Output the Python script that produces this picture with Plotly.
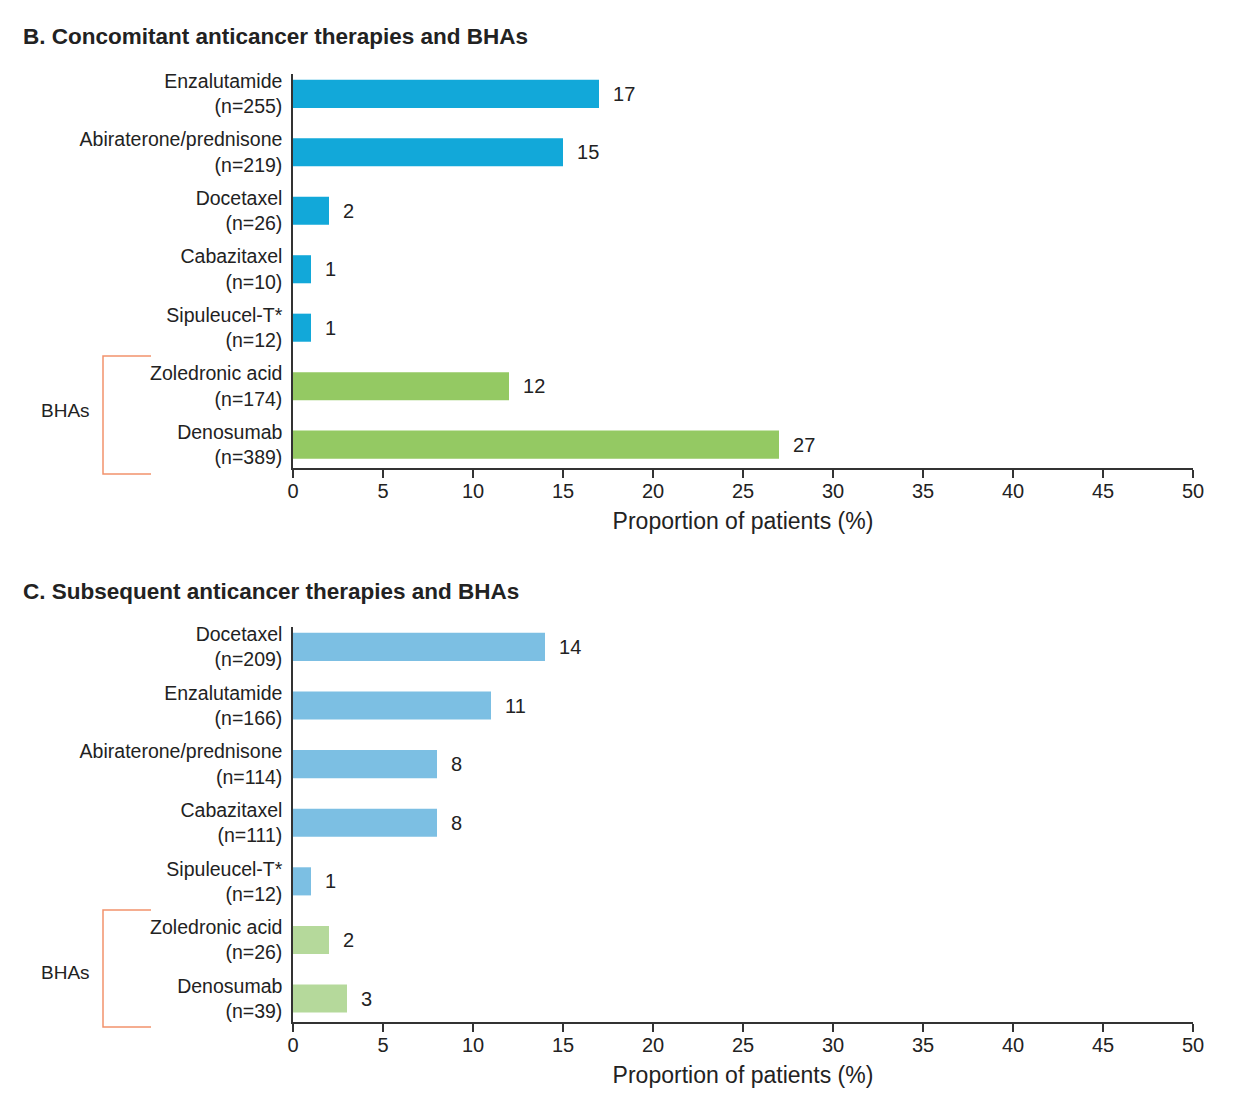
import plotly.graph_objects as go

W, H = 1237, 1109

# Panel B data
b_labels = ["Enzalutamide<br>(n=255)", "Abiraterone/prednisone<br>(n=219)", "Docetaxel<br>(n=26)",
            "Cabazitaxel<br>(n=10)", "Sipuleucel-T*<br>(n=12)", "Zoledronic acid<br>(n=174)",
            "Denosumab<br>(n=389)"]
b_values = [17, 15, 2, 1, 1, 12, 27]
b_is_bha = [False, False, False, False, False, True, True]

# Panel C data
c_labels = ["Docetaxel<br>(n=209)", "Enzalutamide<br>(n=166)", "Abiraterone/prednisone<br>(n=114)",
            "Cabazitaxel<br>(n=111)", "Sipuleucel-T*<br>(n=12)", "Zoledronic acid<br>(n=26)",
            "Denosumab<br>(n=39)"]
c_values = [14, 11, 8, 8, 1, 2, 3]
c_is_bha = [False, False, False, False, False, True, True]

x_ticks = [0, 5, 10, 15, 20, 25, 30, 35, 40, 45, 50]

B_BLUE, B_GREEN = "#12A8D9", "#94C963"
C_BLUE, C_GREEN = "#7CBFE3", "#B5D99B"
BRACKET = "#F2926C"
TXT = "#222222"
FONT = "Liberation Sans, Arial, sans-serif"

fig = go.Figure()

fig.add_trace(go.Bar(
    y=b_labels, x=b_values, orientation="h", xaxis="x", yaxis="y",
    marker=dict(color=[B_GREEN if g else B_BLUE for g in b_is_bha], line=dict(width=0)),
    width=0.48, text=["\u00a0\u00a0" + str(v) for v in b_values], textposition="outside",
    constraintext="none", cliponaxis=False, textfont=dict(size=20, color=TXT, family=FONT),
    hoverinfo="skip", showlegend=False))

fig.add_trace(go.Bar(
    y=c_labels, x=c_values, orientation="h", xaxis="x2", yaxis="y2",
    marker=dict(color=[C_GREEN if g else C_BLUE for g in c_is_bha], line=dict(width=0)),
    width=0.48, text=["\u00a0\u00a0" + str(v) for v in c_values], textposition="outside",
    constraintext="none", cliponaxis=False, textfont=dict(size=20, color=TXT, family=FONT),
    hoverinfo="skip", showlegend=False))

xdom = [293 / W, 1193 / W]
ydom_b = [1 - 468 / H, 1 - 74 / H]
ydom_c = [1 - 1022 / H, 1 - 627 / H]

def xaxis_cfg(anchor):
    return dict(domain=xdom, anchor=anchor, range=[0, 50], tickvals=x_ticks,
                ticks="outside", ticklen=8, tickwidth=1.5, tickcolor="#333",
                showline=True, linecolor="#333", linewidth=2, showgrid=False, zeroline=False,
                tickfont=dict(size=20, color=TXT, family=FONT), ticklabelstandoff=-4,
                title=dict(text="Proportion of patients (%)", standoff=12,
                           font=dict(size=23, color=TXT, family=FONT)),
                automargin=False, fixedrange=True)

def yaxis_cfg(anchor, dom, cats):
    return dict(domain=dom, anchor=anchor, type="category", categoryorder="array",
                categoryarray=cats, range=[6.4, -0.34], showline=True, linecolor="#333",
                linewidth=1.5, ticks="", ticklabelstandoff=5, showgrid=False, zeroline=False,
                tickfont=dict(size=19.5, color=TXT, family=FONT), automargin=False,
                fixedrange=True)

fig.update_layout(
    width=W, height=H, margin=dict(l=0, r=0, t=0, b=0),
    paper_bgcolor="white", plot_bgcolor="white",
    font=dict(family=FONT, color=TXT),
    xaxis=xaxis_cfg("y"), yaxis=yaxis_cfg("x", ydom_b, b_labels),
    xaxis2=xaxis_cfg("y2"), yaxis2=yaxis_cfg("x2", ydom_c, c_labels),
    bargap=0.5,
)

# Titles
for txt, ypx in [("<b>B. Concomitant anticancer therapies and BHAs</b>", 37),
                 ("<b>C. Subsequent anticancer therapies and BHAs</b>", 591)]:
    fig.add_annotation(text=txt, xref="paper", yref="paper", x=21 / W, y=1 - ypx / H,
                       xanchor="left", yanchor="middle", showarrow=False,
                       font=dict(size=22.5, color=TXT, family=FONT))

# BHA brackets (pixel positions converted to paper coordinates)
for top, bot, mid in [(356, 474, 410), (910, 1027, 972)]:
    x0, x1 = 103 / W, 151 / W
    y0, y1 = 1 - top / H, 1 - bot / H
    fig.add_shape(type="path", xref="paper", yref="paper",
                  path=f"M {x1} {y0} L {x0} {y0} L {x0} {y1} L {x1} {y1}",
                  line=dict(color=BRACKET, width=1.5))
    fig.add_annotation(text="BHAs", xref="paper", yref="paper", x=92 / W, y=1 - mid / H,
                       xanchor="right", yanchor="middle", showarrow=False,
                       font=dict(size=19, color=TXT, family=FONT))

fig.write_html("out.html")
